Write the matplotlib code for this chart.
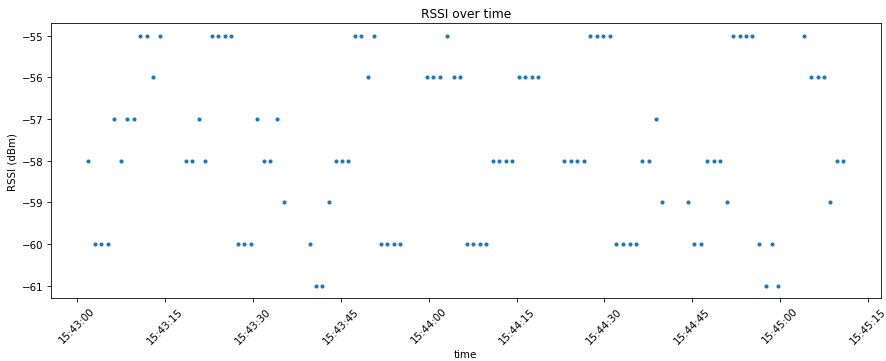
import matplotlib
matplotlib.use("Agg")
import matplotlib.pyplot as plt
import matplotlib.dates as mdates
import pandas as pd

base_time = "2024-01-01 15:43:00"
seconds = [1.94, 3.02, 4.16, 5.29, 6.38, 7.45, 8.60, 9.67, 10.75, 11.89, 13.03, 14.11,
           18.54, 19.69, 20.81, 21.90, 23.03, 24.12, 25.25, 26.34, 27.41, 28.49, 29.63,
           30.71, 31.90, 32.99, 34.12, 35.26,
           39.70, 40.77, 41.86, 43.06, 44.13, 45.21, 46.30, 47.42, 48.52, 49.64, 50.73,
           51.86, 52.95, 54.08, 55.17,
           59.71, 60.80, 61.87, 63.19, 64.26, 65.34, 66.48, 67.55, 68.70, 69.77, 70.97,
           72.06, 73.13, 74.21, 75.35, 76.42, 77.57, 78.71,
           83.15, 84.22, 85.37, 86.44, 87.58, 88.66, 89.80, 90.87, 91.95, 93.09, 94.29,
           95.36, 96.45, 97.53, 98.72, 99.75,
           104.18, 105.32, 106.40, 107.47, 108.62, 109.76, 110.89, 111.91, 113.05, 114.13,
           115.22, 116.34, 117.49, 118.56, 119.65,
           124.09, 125.21, 126.36, 127.50, 128.57, 129.65, 130.75]
rssi = [-58, -60, -60, -60, -57, -58, -57, -57, -55, -55, -56, -55,
        -58, -58, -57, -58, -55, -55, -55, -55, -60, -60, -60,
        -57, -58, -58, -57, -59,
        -60, -61, -61, -59, -58, -58, -58, -55, -55, -56, -55,
        -60, -60, -60, -60,
        -56, -56, -56, -55, -56, -56, -60, -60, -60, -60, -58,
        -58, -58, -58, -56, -56, -56, -56,
        -58, -58, -58, -58, -55, -55, -55, -55, -60, -60, -60,
        -60, -58, -58, -57, -59,
        -59, -60, -60, -58, -58, -58, -59, -55, -55, -55,
        -55, -60, -61, -60, -61,
        -55, -56, -56, -56, -59, -58, -58]

times = pd.to_datetime(base_time) + pd.to_timedelta(seconds, unit="s")

dpi = 886 / 12
fig = plt.figure(figsize=(12, 362 / dpi), dpi=dpi)
ax = fig.add_axes([50.7 / 886, 1 - 299.3 / 362, (881 - 50.7) / 886, (299.3 - 24) / 362])
ax.plot(times, rssi, ".", color="#1f77b4")
ax.xaxis.set_major_locator(mdates.SecondLocator(bysecond=[0, 15, 30, 45]))
ax.xaxis.set_major_formatter(mdates.DateFormatter("%H:%M:%S"))
plt.setp(ax.get_xticklabels(), rotation=45)
ax.set_xlabel("time")
ax.set_ylabel("RSSI (dBm)")
ax.set_title("RSSI over time")
fig.savefig("out.png", dpi=dpi)
